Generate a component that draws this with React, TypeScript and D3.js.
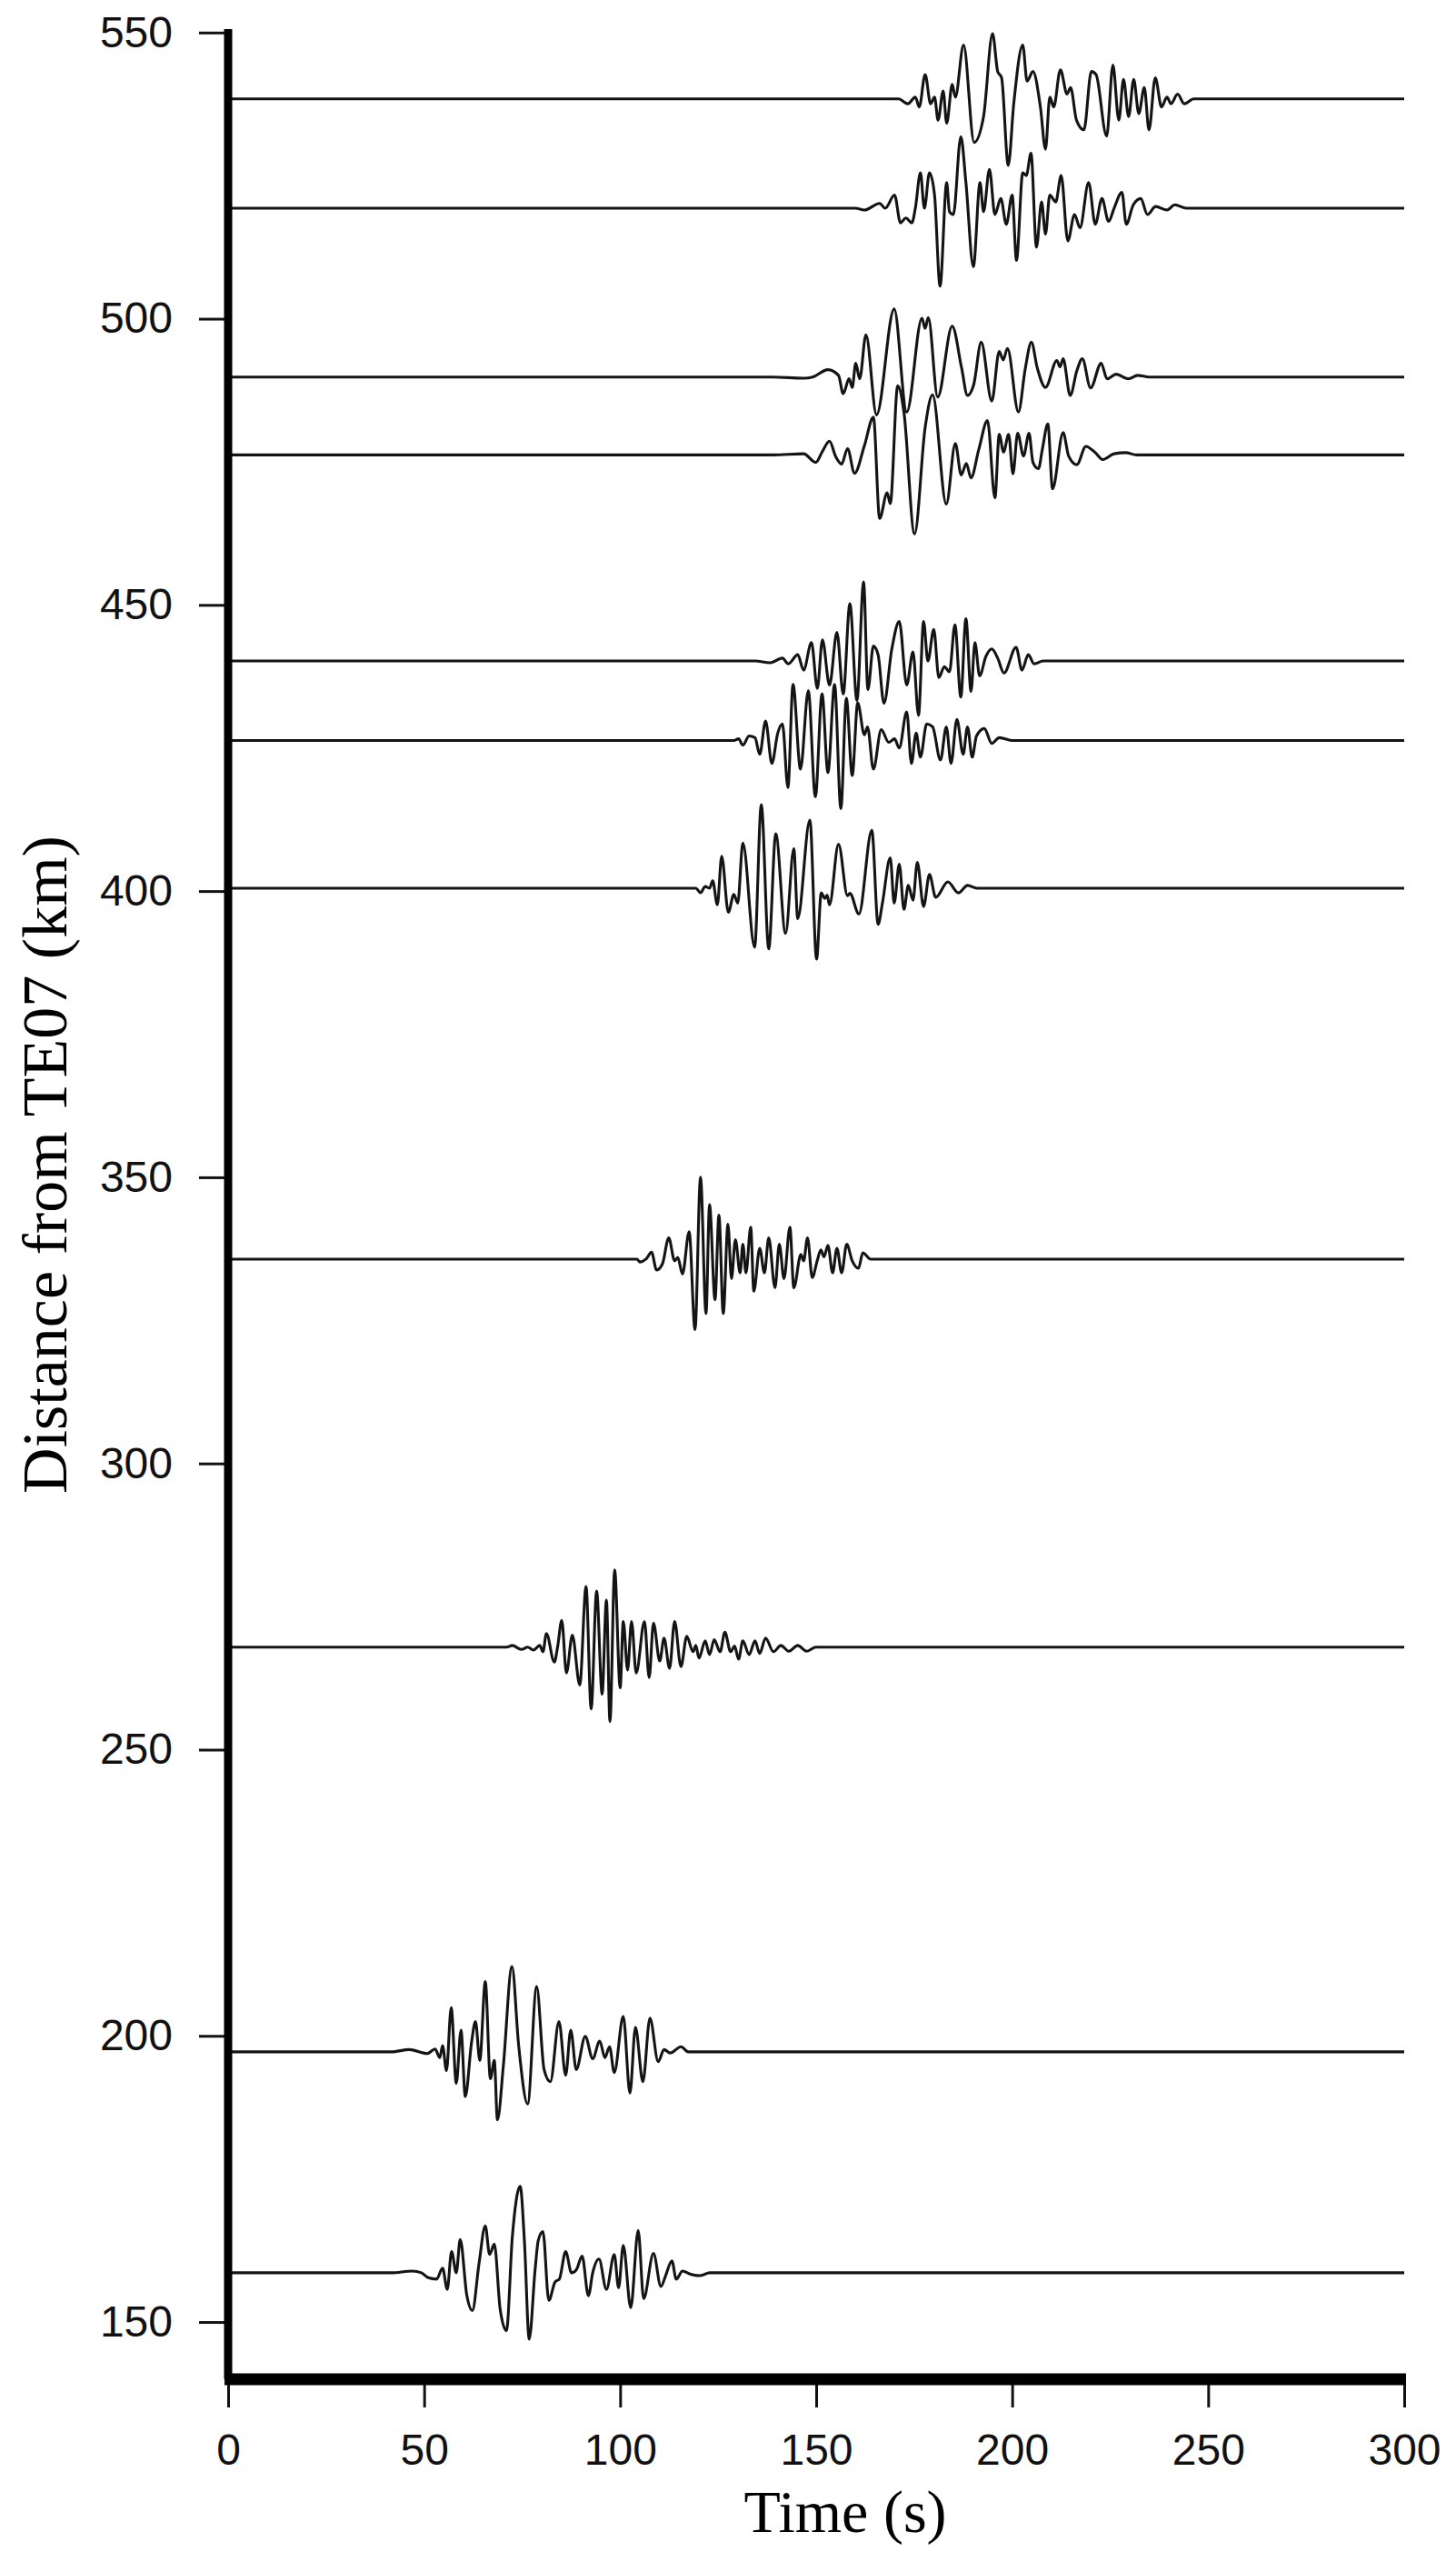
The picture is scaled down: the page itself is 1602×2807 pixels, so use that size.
import React, { useRef, useEffect } from "react";
import * as d3 from "d3";

const WIDTH = 1602;
const HEIGHT = 2807;

// station distances (km) for each trace baseline, top to bottom
const distances = [538.4, 519.3, 489.8, 476.2, 440.2, 426.3, 400.5, 335.7, 267.9, 197.2, 158.6];

const timeTicks = [0, 50, 100, 150, 200, 250, 300];
const distanceTicks = [150, 200, 250, 300, 350, 400, 450, 500, 550];

// picks: [time (s), deflection (km)]
const trace538 = [
  [171.0, 0], [173.4, -0.85], [175.3, 0.3], [176.3, -1.4], [177.8, 4.25], [179.2, -0.85], [180.2, 0.3],
  [181.1, -3.7], [182.4, 1.4], [183.3, -4.25], [184.7, 2.55], [185.5, 0.3], [187.6, 9.4], [190.3, -7.6],
  [192.7, -3.1], [195.0, 11.4], [196.3, 4.8], [197.3, 3.7], [199.0, -11.6], [200.4, -0.85], [202.7, 9.4],
  [203.8, 3.1], [205.3, 4.8], [207.2, -1.4], [208.5, -8.8], [209.6, 0.3], [210.6, -1.4], [212.3, 5.1],
  [214.0, 0.85], [214.9, 2.0], [216.4, -3.7], [218.3, -5.4], [220.2, 4.8], [221.4, 4.25], [224.1, -6.5],
  [225.7, 5.9], [227.2, -3.7], [228.4, 3.4], [229.7, -3.1], [231.0, 3.4], [232.3, -2.55], [233.7, 2.0],
  [234.9, -5.4], [236.5, 3.7], [238.1, -1.4], [239.5, 0.3], [240.5, -0.85], [242.2, 0.85], [243.9, -0.85],
  [246.3, 0],
];

const trace519 = [
  [160.0, 0], [162.3, -0.3], [166.2, 0.85], [167.6, 0], [170.0, 2.3], [171.5, -2.55], [172.9, -1.7],
  [174.4, -2.55], [175.3, 0], [176.6, 6.2], [177.6, 0], [178.9, 6.2], [180.2, 2.3], [181.6, -13.6],
  [183.3, 4.5], [184.0, -0.6], [185.0, -1.1], [186.9, 12.5], [188.2, 4.5], [190.1, -10.2], [191.8, 4.5],
  [192.7, -0.6], [194.2, 6.8], [195.6, -1.1], [197.1, 1.7], [198.5, -2.8], [200.0, 2.3], [201.1, -9.1],
  [202.7, 6.2], [203.6, 5.7], [204.8, 9.6], [206.2, -6.8], [207.5, 1.1], [208.5, -4.5], [209.6, 2.3],
  [211.1, 1.1], [212.5, 5.7], [214.2, -5.7], [215.9, -1.1], [217.3, -3.4], [219.5, 4.5], [221.2, -2.8],
  [222.9, 1.7], [224.6, -2.3], [226.0, 0], [228.0, 2.8], [229.1, -2.8], [230.9, 0.6], [232.8, 1.7],
  [234.5, -1.1], [236.6, 0.3], [239.5, -0.3], [241.5, 0.6], [244.4, 0],
];

const trace490 = [
  [139.0, 0], [146.8, -0.2], [149.1, 0], [153.0, 1.3], [155.7, 0.3], [156.9, -2.9], [158.4, -0.3],
  [159.2, -1.8], [160.1, 2.4], [161.1, -0.3], [162.7, 7.4], [165.4, -6.6], [169.9, 11.9], [173.1, -6.1],
  [177.0, 10.3], [177.8, 8.5], [178.6, 10.4], [181.0, -3.5], [184.7, 8.9], [187.1, 1.6], [188.6, -3.2],
  [190.2, -1.3], [192.1, 6.1], [194.8, -4.2], [196.7, 4.5], [197.7, 3.0], [198.8, 5.0], [201.6, -6.1],
  [203.3, 1.3], [204.9, 6.1], [206.4, 1.6], [208.5, -1.8], [211.4, 2.9], [212.2, 1.8], [213.0, 3.2],
  [214.8, -3.2], [216.5, 1.1], [217.9, 3.2], [220.0, -1.9], [222.7, 2.4], [224.2, -0.3], [226.5, 0.5],
  [229.6, -0.3], [232.0, 0.3], [235.0, 0],
];

const trace476 = [
  [139.0, 0], [146.8, 0.2], [149.9, -1.3], [151.5, 0.5], [153.4, 2.4], [155.0, -0.3], [156.5, -1.6],
  [158.0, 1.1], [159.8, -3.2], [162.3, 1.6], [164.6, 6.6], [166.2, -11.1], [168.1, -6.6], [168.9, -8.5],
  [170.8, 12.1], [172.4, 7.4], [175.1, -13.8], [177.8, 4.8], [179.7, 10.5], [183.2, -8.6], [185.5, 2.0],
  [187.0, -3.5], [188.3, -1.5], [189.5, -4.0], [191.5, 1.0], [193.7, 6.0], [195.6, -7.5], [196.7, 3.6],
  [197.8, 0.5], [199.1, 3.6], [200.2, -3.3], [201.4, 3.8], [202.9, -0.2], [204.3, 3.8], [205.3, -1.3],
  [206.7, -2.4], [207.7, 1.0], [209.1, 5.4], [210.3, -5.9], [213.0, 3.9], [214.4, -0.2], [216.5, -1.7],
  [218.8, 1.5], [221.2, 0.4], [223.1, -0.8], [226.0, 0.2], [228.9, 0.4], [231.8, 0],
];

const trace440 = [
  [134.4, 0], [138.3, -0.3], [141.4, 0.5], [142.9, -0.5], [145.3, 1.1], [146.8, -1.6], [148.8, 3.2],
  [150.3, -4.8], [151.6, 3.7], [153.4, -4.2], [155.3, 5.0], [156.9, -5.8], [158.6, 10.0], [160.4, -6.9],
  [162.1, 13.8], [163.2, -5.0], [164.6, 2.6], [165.8, 1.1], [167.3, -7.4], [169.3, 2.1], [171.2, 6.9],
  [173.1, -4.2], [174.7, 1.6], [176.1, -9.5], [177.4, 6.9], [178.5, 0], [180.0, 5.5], [181.3, -2.9],
  [182.7, -1.0], [184.0, -1.9], [185.4, 6.3], [186.9, -6.3], [188.2, 7.4], [189.5, -5.3], [190.5, 3.2],
  [191.7, -2.6], [193.3, 0.8], [194.8, 2.1], [196.3, 0.5], [197.9, -2.1], [201.0, 2.4], [202.5, -1.6],
  [204.1, 1.1], [205.6, -0.5], [207.9, 0],
];

const trace426 = [
  [129.0, 0], [130.2, 0.3], [131.3, -0.8], [132.9, 0.8], [134.4, 0.5], [135.6, -2.4], [137.1, 3.4],
  [138.7, -4.0], [140.2, 1.3], [141.4, 2.9], [142.8, -8.2], [144.1, 9.8], [146.0, -5.0], [148.0, 8.7],
  [149.8, -9.8], [151.5, 8.2], [153.0, -5.6], [154.7, 9.8], [156.3, -11.9], [157.7, 7.4], [159.2, -6.1],
  [160.6, 6.6], [162.3, 1.0], [163.1, 2.4], [164.6, -5.0], [166.6, 1.9], [168.5, -0.3], [170.0, 0.3],
  [171.2, -1.3], [173.1, 5.0], [174.3, -4.0], [175.5, 1.3], [176.6, -2.9], [178.2, 2.9], [179.7, 2.4],
  [181.7, -3.4], [183.2, 2.4], [184.4, -4.0], [185.9, 3.7], [187.5, -2.4], [188.6, 2.4], [189.8, -2.9],
  [190.9, 0.8], [192.9, 2.1], [194.8, -0.5], [196.7, 0.5], [200.2, 0],
];

const trace400 = [
  [119.3, 0], [120.5, -0.8], [121.7, 0.3], [122.8, 0], [123.6, 1.3], [124.8, -2.9], [125.9, 5.6],
  [127.6, -4.2], [129.0, -1.1], [130.0, -2.6], [131.3, 7.9], [134.3, -10.3], [136.0, 14.6], [137.9, -10.6],
  [139.7, 9.5], [142.2, -7.9], [144.3, 6.9], [145.3, -5.3], [148.4, 11.9], [150.1, -12.4], [151.3, -0.8],
  [152.2, -1.8], [152.8, -1.2], [153.4, -2.9], [155.7, 7.7], [158.0, -1.3], [158.6, -0.9], [160.9, -4.5],
  [164.2, 10.1], [165.8, -6.3], [166.9, -2.6], [168.9, 5.3], [169.9, -2.6], [171.2, 4.2], [172.4, -3.7],
  [173.5, 0.5], [174.7, -2.1], [175.8, 4.5], [177.4, -3.2], [178.9, 2.4], [180.5, -1.6], [183.6, 1.1],
  [186.3, -0.8], [188.6, 0.5], [191.0, 0],
];

const trace336 = [
  [104.3, 0], [105.0, -0.5], [106.6, 0], [108.0, 1.2], [109.3, -1.9], [110.8, -0.8], [112.4, 3.7],
  [113.9, -0.3], [114.7, 0.3], [115.9, -2.6], [117.6, 4.8], [119.1, -12.3], [120.5, 14.3], [121.9, -9.5],
  [122.8, 9.5], [124.2, -7.1], [125.2, 7.7], [126.3, -9.5], [127.5, 6.1], [128.4, -3.4], [129.4, 3.4],
  [130.6, -2.4], [131.3, 2.6], [132.1, -2.4], [133.3, 5.6], [134.1, -5.6], [135.6, 1.9], [136.8, -2.4],
  [137.9, 3.7], [139.5, -5.0], [140.6, 2.6], [141.8, -3.4], [143.3, 5.6], [144.3, -5.0], [146.1, 0.8],
  [146.8, -0.3], [147.8, 3.7], [149.0, -3.2], [150.3, -0.2], [151.2, 1.6], [152.0, 0.4], [153.0, 2.4],
  [154.2, -2.4], [155.3, 1.9], [156.5, -2.4], [157.8, 2.6], [159.2, -0.3], [160.8, -1.6], [161.9, 1.1],
  [163.9, 0],
];

const trace268 = [
  [71.0, 0], [72.5, 0.3], [74.8, -0.4], [76.4, 0], [77.9, -0.5], [79.5, 0.3], [80.3, -0.8], [81.2, 2.4],
  [83.2, -2.6], [84.1, 0.3], [85.1, 4.7], [86.3, -4.5], [87.8, 2.1], [89.7, -6.6], [91.3, 10.6],
  [92.6, -10.8], [94.0, 9.8], [95.4, -8.2], [96.5, 8.2], [97.4, -13.0], [98.6, 13.5], [100.0, -7.1],
  [100.8, 4.5], [101.9, -4.0], [102.9, 4.5], [104.1, -4.5], [106.2, 4.5], [107.4, -5.3], [108.5, 4.2],
  [110.1, -2.4], [111.2, 1.6], [112.6, -3.7], [113.9, 4.5], [115.5, -3.4], [117.0, 1.9], [118.6, -0.8],
  [119.3, 0.3], [120.1, -1.9], [121.7, 1.1], [122.8, -1.3], [124.0, 1.3], [125.5, -0.8], [126.7, 2.6],
  [128.2, -0.8], [129.2, 0.2], [130.2, -2.1], [131.3, 1.1], [132.9, -1.3], [134.4, 1.1], [135.6, -1.1],
  [137.1, 1.6], [139.1, -0.8], [141.0, 0.3], [143.0, -0.7], [145.3, 0.3], [147.6, -0.7], [149.9, 0],
];

const trace197 = [
  [41.6, 0], [46.2, 0.4], [50.8, -0.3], [52.8, 0.5], [54.0, -1.0], [54.7, 1.1], [55.7, -3.3], [56.9, 7.7],
  [58.2, -5.5], [59.4, 3.8], [60.5, -7.8], [62.1, 1.7], [63.1, 5.3], [64.2, -1.5], [65.6, 12.3],
  [66.9, -4.7], [67.9, -1.5], [68.7, -11.9], [70.2, -2.5], [72.4, 14.9], [74.1, 1.2], [76.4, -9.1],
  [78.7, 11.4], [80.6, -3.1], [82.2, -5.2], [84.4, 5.3], [86.1, -4.1], [87.4, 3.8], [88.8, -3.1],
  [91.1, 2.7], [93.0, -1.2], [94.8, 1.9], [96.1, -1.0], [97.3, 0.9], [98.5, -3.6], [100.8, 6.2],
  [102.5, -7.2], [103.9, 4.3], [105.8, -5.2], [107.6, 5.9], [109.7, -1.7], [111.2, 0.4], [112.8, -0.2],
  [115.5, 0.9], [117.4, 0],
];

const trace159 = [
  [41.6, 0], [47.0, 0.3], [49.3, 0], [50.9, -0.8], [53.2, -1.1], [54.7, 0.8], [55.9, -2.9], [57.0, 3.7],
  [58.2, 0], [59.2, 5.8], [60.9, -4.0], [62.3, -6.6], [64.0, 1.6], [65.6, 8.2], [66.7, 3.2], [67.9, 5.0],
  [69.4, -6.4], [71.0, -10.1], [72.5, 6.3], [74.5, 15.1], [75.6, 5.3], [76.8, -11.6], [78.3, 0.5],
  [79.1, 5.6], [80.3, 7.2], [81.8, -4.8], [83.4, -1.6], [84.5, -1.1], [86.1, 3.7], [87.6, 0], [88.8, 0.5],
  [90.3, 2.9], [91.9, -4.0], [93.0, 0], [94.6, 2.4], [96.5, -2.9], [98.5, 3.2], [99.6, -2.6], [100.8, 4.8],
  [102.7, -6.1], [104.6, 7.4], [106.0, -4.5], [108.5, 3.4], [110.4, -2.4], [111.6, -0.5], [113.2, 2.1],
  [114.3, -1.1], [115.9, 0.3], [118.2, -0.3], [120.5, -0.5], [122.8, 0],
];

const traces = [
  trace538, trace519, trace490, trace476, trace440, trace426,
  trace400, trace336, trace268, trace197, trace159,
];

export default function App() {
  const svgRef = useRef<SVGSVGElement | null>(null);

  useEffect(() => {
    document.body.style.margin = "0";
    const svg = d3.select(svgRef.current);
    svg.selectAll("*").remove();

    const x = d3.scaleLinear().domain([0, 300]).range([251, 1545]);
    const y = d3.scaleLinear().domain([140, 550.6]).range([2617, 32]);

    // seismograms
    const g = svg.append("g");
    traces.forEach((tr, i) => {
      const base = distances[i];
      const pts = [[0, 0], ...tr, [300, 0]] as [number, number][];
      const line = d3
        .line<[number, number]>()
        .x(d => x(d[0]))
        .y(d => y(base + d[1]))
        .curve(d3.curveMonotoneX);
      g.append("path")
        .attr("d", line(pts))
        .attr("fill", "none")
        .attr("stroke", "#141414")
        .attr("stroke-width", 3.1)
        .attr("stroke-linejoin", "round");
    });

    // y axis
    const yAxis = svg
      .append("g")
      .attr("transform", `translate(${x(0)},0)`)
      .call(
        d3.axisLeft(y)
          .tickValues(distanceTicks)
          .tickSize(32)
          .tickSizeOuter(0)
          .tickPadding(29)
          .tickFormat(d3.format("d"))
      );
    yAxis.select(".domain").remove();
    yAxis.selectAll(".tick line").attr("stroke", "#111").attr("stroke-width", 3);
    yAxis.selectAll(".tick text")
      .attr("font-family", "'Liberation Sans', Arial, sans-serif")
      .attr("font-size", 48)
      .attr("fill", "#111");

    // x axis
    const xAxis = svg
      .append("g")
      .attr("transform", `translate(0,${y(140)})`)
      .call(
        d3.axisBottom(x)
          .tickValues(timeTicks)
          .tickSize(31)
          .tickSizeOuter(0)
          .tickPadding(29)
          .tickFormat(d3.format("d"))
      );
    xAxis.select(".domain").remove();
    xAxis.selectAll(".tick line").attr("stroke", "#111").attr("stroke-width", 3);
    xAxis.selectAll(".tick text")
      .attr("font-family", "'Liberation Sans', Arial, sans-serif")
      .attr("font-size", 48)
      .attr("fill", "#111");

    // heavy axis lines
    svg.append("line")
      .attr("x1", x(0)).attr("x2", x(0))
      .attr("y1", y(550.6)).attr("y2", y(140))
      .attr("stroke", "#000").attr("stroke-width", 9);
    svg.append("line")
      .attr("x1", x(0) - 4).attr("x2", x(300) + 2)
      .attr("y1", y(140)).attr("y2", y(140))
      .attr("stroke", "#000").attr("stroke-width", 13);

    // titles
    svg.append("text")
      .attr("x", 930)
      .attr("y", 2785)
      .attr("text-anchor", "middle")
      .attr("font-family", "'Liberation Serif', 'Times New Roman', serif")
      .attr("font-size", 66)
      .attr("fill", "#000")
      .text("Time (s)");
    svg.append("text")
      .attr("transform", "translate(73,1281) rotate(-90)")
      .attr("text-anchor", "middle")
      .attr("font-family", "'Liberation Serif', 'Times New Roman', serif")
      .attr("font-size", 70)
      .attr("fill", "#000")
      .text("Distance from TE07 (km)");
  }, []);

  return (
    <svg
      ref={svgRef}
      width={WIDTH}
      height={HEIGHT}
      style={{ display: "block", background: "#fff" }}
    />
  );
}
